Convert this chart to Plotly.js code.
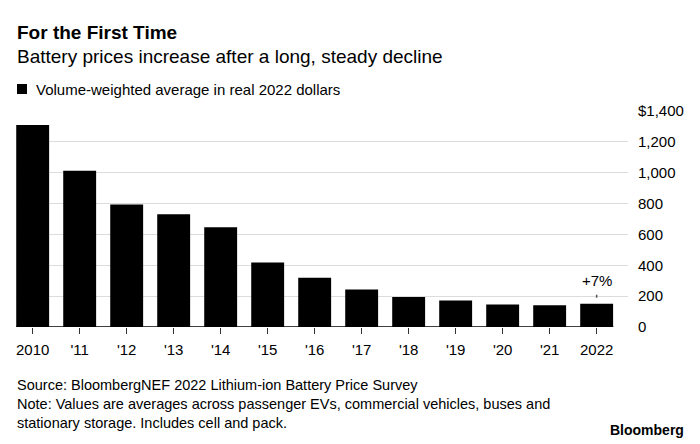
<!DOCTYPE html>
<html>
<head>
<meta charset="utf-8">
<script src="https://cdn.plot.ly/plotly-3.0.1.min.js"></script>
<style>html,body{margin:0;padding:0;background:#fff;}#chart{width:700px;height:444px;}</style>
</head>
<body>
<div id="chart"></div>
<script>
const categories = ["2010", "'11", "'12", "'13", "'14", "'15", "'16", "'17", "'18", "'19", "'20", "'21", "2022"];
const prices = [1310, 1012, 794, 731, 647, 418, 319, 243, 194, 172, 146, 141, 151];
const yTickVals = [0, 200, 400, 600, 800, 1000, 1200, 1400];
const yTickText = ["0", "200", "400", "600", "800", "1,000", "1,200", "$1,400"];
const changeLabel = "+7%";
const footerLines = [
  "Source: BloombergNEF 2022 Lithium-ion Battery Price Survey",
  "Note: Values are averages across passenger EVs, commercial vehicles, buses and",
  "stationary storage. Includes cell and pack."
];

const FONT = "Liberation Sans, Arial, Helvetica, sans-serif";
const W = 700, H = 444;
const L = 16, R = 72, T = 111, B = 117;
const plotH = H - T - B, plotW = W - L - R;
const py = p => (H - B - p) / plotH;   // pixel y -> paper y
const px = p => (p - L) / plotW;       // pixel x -> paper x

const last = categories.length - 1;

const trace = {
  type: 'bar',
  x: categories,
  y: prices,
  marker: {color: '#000000', line: {width: 0}},
  hoverinfo: 'skip'
};

const annotations = [
  {text: '<b>For the First Time</b>', x: px(15), y: py(33), xref: 'paper', yref: 'paper', xanchor: 'left', yanchor: 'middle', showarrow: false, font: {family: FONT, size: 19, color: '#000'}},
  {text: 'Battery prices increase after a long, steady decline', x: px(15), y: py(56.5), xref: 'paper', yref: 'paper', xanchor: 'left', yanchor: 'middle', showarrow: false, font: {family: FONT, size: 19, color: '#000'}},
  {text: 'Volume-weighted average in real 2022 dollars', x: px(34), y: py(89), xref: 'paper', yref: 'paper', xanchor: 'left', yanchor: 'middle', showarrow: false, font: {family: FONT, size: 15, color: '#000'}},
  {text: footerLines.join('<br>'), align: 'left', x: px(15), y: py(404), xref: 'paper', yref: 'paper', xanchor: 'left', yanchor: 'middle', showarrow: false, font: {family: FONT, size: 14.5, color: '#000'}},
  {text: '<b>Bloomberg</b>', x: px(686), y: py(430), xref: 'paper', yref: 'paper', xanchor: 'right', yanchor: 'middle', showarrow: false, font: {family: FONT, size: 14, color: '#000'}},
  {text: changeLabel, x: last, y: prices[last], xref: 'x', yref: 'y', xanchor: 'center', yanchor: 'bottom', yshift: 13, showarrow: false, font: {family: FONT, size: 15, color: '#000'}}
];

const shapes = [
  // legend square
  {type: 'rect', xref: 'paper', yref: 'paper', x0: px(17), x1: px(27), y0: py(94), y1: py(84), fillcolor: '#000', line: {width: 0}},
  // black baseline under the bars
  {type: 'line', xref: 'x', yref: 'y', x0: -0.355, x1: last + 0.355, y0: 0, y1: 0, line: {color: '#000', width: 1.5}},
  // small marker above last bar
  {type: 'line', xref: 'x', yref: 'y', ysizemode: 'pixel', yanchor: prices[last], x0: last, x1: last, y0: 6, y1: 9, line: {color: '#555', width: 1.5}}
];

const layout = {
  width: W, height: H,
  margin: {l: L, r: R, t: T, b: B, pad: 0},
  paper_bgcolor: '#fff', plot_bgcolor: '#fff',
  showlegend: false,
  bargap: 0.3,
  xaxis: {
    type: 'category',
    range: [-0.355, 12.667],
    showgrid: false, zeroline: false, showline: false,
    ticks: 'outside', ticklen: 6, tickwidth: 1, tickcolor: '#333',
    ticklabelstandoff: 3,
    tickfont: {family: FONT, size: 15, color: '#000'},
    fixedrange: true
  },
  yaxis: {
    side: 'right',
    range: [0, 1400],
    tickvals: yTickVals, ticktext: yTickText,
    showgrid: true, gridcolor: '#dcdcdc', gridwidth: 1,
    zeroline: false, showline: false,
    ticks: 'outside', ticklen: 6, tickcolor: 'rgba(0,0,0,0)',
    tickfont: {family: FONT, size: 15, color: '#000'},
    fixedrange: true
  },
  annotations: annotations,
  shapes: shapes,
  font: {family: FONT}
};

Plotly.newPlot('chart', [trace], layout, {displayModeBar: false, staticPlot: true});
</script>
</body>
</html>
